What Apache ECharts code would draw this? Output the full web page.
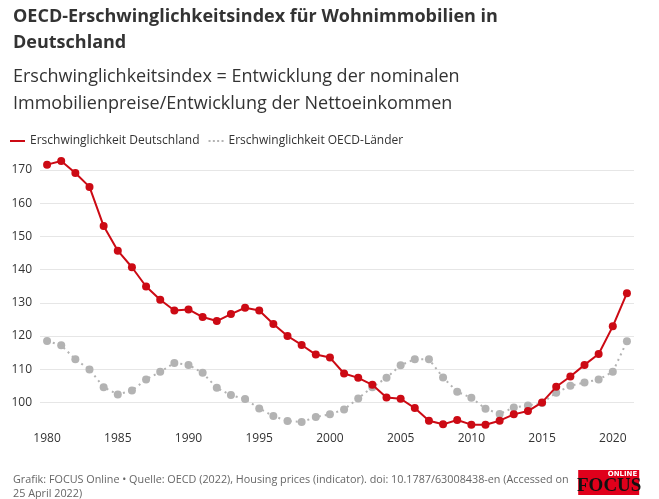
<!DOCTYPE html>
<html>
<head>
<meta charset="utf-8">
<script src="https://cdn.jsdelivr.net/npm/echarts@6/dist/echarts.min.js"></script>
<style>
html,body{margin:0;padding:0;background:#fff;}
#chart{width:659px;height:499px;}
</style>
</head>
<body>
<div id="chart"></div>
<script>
const years = [];
for (let y = 1980; y <= 2021; y++) years.push(String(y));

const deutschland = [171.6, 172.7, 169.1, 164.9, 153.1, 145.7, 140.7, 134.9, 130.9, 127.7,
  128.0, 125.7, 124.5, 126.6, 128.5, 127.7, 123.6, 120.0, 117.3, 114.4,
  113.5, 108.7, 107.4, 105.3, 101.5, 101.1, 98.3, 94.5, 93.4, 94.7,
  93.3, 93.3, 94.5, 96.4, 97.4, 100.0, 104.7, 107.8, 111.3, 114.6,
  122.9, 132.9];

const oecd = [118.5, 117.2, 113.0, 109.9, 104.6, 102.4, 103.6, 106.9, 109.2, 111.9,
  111.3, 108.9, 104.4, 102.2, 101.0, 98.2, 95.9, 94.4, 94.1, 95.6,
  96.4, 97.9, 101.2, 104.6, 107.4, 111.2, 113.0, 113.0, 107.5, 103.2,
  101.4, 98.1, 96.5, 98.5, 99.1, 99.8, 102.9, 105.0, 106.0, 106.9,
  109.2, 118.4];

const seriesNames = ['Erschwinglichkeit Deutschland', 'Erschwinglichkeit OECD-Länder'];

const FONT = "'Open Sans', 'Noto Sans', sans-serif";
const chart = echarts.init(document.getElementById('chart'), null, {renderer: 'canvas'});

chart.setOption({
  animation: false,
  backgroundColor: '#fff',
  textStyle: {fontFamily: FONT},
  title: [
    {
      text: 'OECD-Erschwinglichkeitsindex für Wohnimmobilien in\nDeutschland',
      left: 8, top: -1,
      textStyle: {fontFamily: FONT, fontSize: 18, fontWeight: 'bold', color: '#333', lineHeight: 26}
    },
    {
      text: 'Erschwinglichkeitsindex = Entwicklung der nominalen\nImmobilienpreise/Entwicklung der Nettoeinkommen',
      left: 8, top: 58,
      textStyle: {fontFamily: FONT, fontSize: 18, fontWeight: 'normal', color: '#333', lineHeight: 27}
    },
    {
      text: 'Grafik: FOCUS Online • Quelle: OECD (2022), Housing prices (indicator). doi: 10.1787/63008438-en (Accessed on\n25 April 2022)',
      left: 8, top: 468,
      textStyle: {fontFamily: FONT, fontSize: 10.8, fontWeight: 'normal', color: '#666', lineHeight: 14}
    }
  ],
  legend: {
    left: 5, top: 130,
    itemWidth: 15, itemHeight: 8, itemGap: 9,
    symbolKeepAspect: true,
    textStyle: {fontFamily: FONT, fontSize: 12, color: '#333'},
    data: [
      {name: seriesNames[0], icon: 'path://M0,0h15v2h-15z'},
      {name: seriesNames[1], icon: 'path://M0,0h2v2h-2zM4.3,0h2v2h-2zM8.6,0h2v2h-2zM13,0h2v2h-2z'}
    ]
  },
  grid: {left: 40, right: 25, top: 160, bottom: 74},
  xAxis: {
    type: 'category',
    data: years,
    boundaryGap: true,
    axisLine: {show: false},
    axisTick: {show: false},
    axisLabel: {
      interval: function (idx, val) { return Number(val) % 5 === 0; },
      fontFamily: FONT, fontSize: 12, color: '#333', margin: 8
    },
    splitLine: {show: false}
  },
  yAxis: {
    type: 'value',
    min: 93.2, max: 173,
    splitNumber: 8,
    axisLine: {show: false},
    axisTick: {show: false},
    axisLabel: {fontFamily: FONT, fontSize: 12, color: '#333', margin: 8, showMinLabel: false, showMaxLabel: false},
    splitLine: {show: true, showMinLine: false, showMaxLine: false, lineStyle: {color: '#e6e6e6', width: 1}}
  },
  series: [
    {
      name: seriesNames[0],
      type: 'line',
      data: deutschland,
      symbol: 'circle', symbolSize: 8,
      lineStyle: {color: '#cc0a14', width: 2},
      itemStyle: {color: '#cc0a14'},
      z: 3
    },
    {
      name: seriesNames[1],
      type: 'line',
      data: oecd,
      symbol: 'circle', symbolSize: 8,
      lineStyle: {color: '#b3b3b3', width: 2, type: [2, 4]},
      itemStyle: {color: '#b3b3b3'},
      z: 2
    }
  ],
  graphic: [
    {
      type: 'group', left: 577, top: 470,
      children: [
        {type: 'rect', shape: {x: 0, y: 0, width: 61, height: 25}, style: {fill: '#e0001b'}},
        {type: 'text', x: 59, y: 1, style: {text: 'ONLINE', fill: '#fff', font: 'bold 7px DejaVu Sans', textAlign: 'right'}},
        {type: 'text', x: 31, y: 7, style: {text: 'FOCUS', fill: '#111', font: 'bold 19px "Liberation Serif", serif', textAlign: 'center'}}
      ]
    }
  ]
});
</script>
</body>
</html>
